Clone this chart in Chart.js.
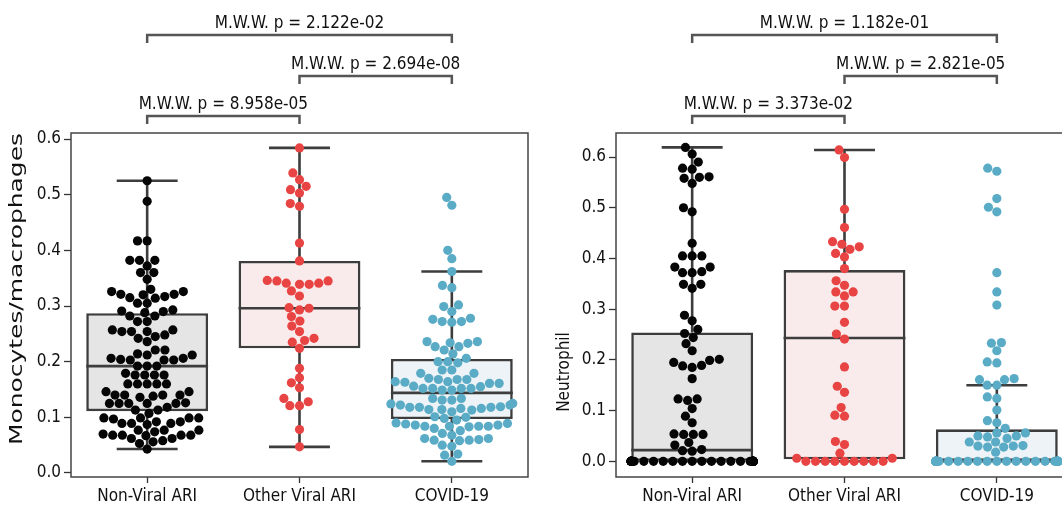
<!DOCTYPE html>
<html>
<head>
<meta charset="utf-8">
<script src="https://cdn.jsdelivr.net/npm/chart.js@4.4.0/dist/chart.umd.min.js"></script>
<style>
  html, body { margin: 0; padding: 0; background: #fff; overflow: hidden; }
  #page { position: relative; width: 1062px; height: 512px; overflow: hidden; }
  .panel { position: absolute; top: 0; width: 545px; height: 512px; }
</style>
</head>
<body>
<div id="page">
  <div class="panel" style="left:0"><canvas id="mono"></canvas></div>
  <div class="panel" style="left:545px"><canvas id="neut"></canvas></div>
</div>
<script>
// categories and axis ticks
const categories = ['Non-Viral ARI', 'Other Viral ARI', 'COVID-19'];
const yTicks = [0, 0.1, 0.2, 0.3, 0.4, 0.5, 0.6];

const monoNonViral = [
  0.525, 0.488, 0.417, 0.417, 0.382, 0.382, 0.382, 0.372, 0.360, 0.360, 0.348, 0.330,
  0.326, 0.321, 0.317, 0.314, 0.320, 0.315, 0.321, 0.326, 0.305, 0.305,
  0.293, 0.282, 0.282, 0.290, 0.288, 0.291, 0.272, 0.272,
  0.254, 0.254, 0.254, 0.257, 0.242, 0.245, 0.248, 0.257, 0.236, 0.221, 0.221,
  0.212, 0.204, 0.214, 0.212, 0.206, 0.203, 0.203, 0.203, 0.206, 0.192, 0.192, 0.192,
  0.176, 0.176, 0.176, 0.176, 0.179, 0.160, 0.160, 0.160, 0.160, 0.160, 0.146, 0.146,
  0.140, 0.136, 0.140, 0.138, 0.140, 0.140, 0.125, 0.125, 0.125, 0.125, 0.125, 0.126,
  0.113, 0.113, 0.118, 0.107, 0.099, 0.099, 0.099, 0.099, 0.097,
  0.089, 0.089, 0.092, 0.089, 0.087, 0.092, 0.077, 0.077, 0.074, 0.077,
  0.068, 0.068, 0.068, 0.058, 0.056, 0.070, 0.062, 0.062, 0.067, 0.068, 0.053, 0.043
];
const monoOtherViral = [
  0.584, 0.539, 0.527, 0.515, 0.509, 0.503, 0.484, 0.479, 0.413, 0.381,
  0.345, 0.341, 0.346, 0.339, 0.339, 0.341, 0.345, 0.327, 0.318,
  0.297, 0.293, 0.296, 0.281, 0.273, 0.264, 0.254, 0.242, 0.238, 0.235, 0.224,
  0.188, 0.171, 0.162, 0.153, 0.134, 0.128, 0.121, 0.121, 0.078, 0.047
];
const monoCovid = [
  0.495, 0.481, 0.400, 0.385, 0.362, 0.337, 0.333, 0.299, 0.302, 0.290,
  0.276, 0.278, 0.272, 0.271, 0.272, 0.236, 0.227, 0.221, 0.227, 0.233, 0.234, 0.236,
  0.214, 0.206, 0.198, 0.200, 0.200, 0.185, 0.185, 0.179, 0.179,
  0.170, 0.168, 0.163, 0.164, 0.168, 0.168, 0.161, 0.155, 0.161, 0.164,
  0.149, 0.152, 0.152, 0.152, 0.152, 0.149, 0.156, 0.134, 0.134, 0.131, 0.131,
  0.125, 0.122, 0.118, 0.118, 0.114, 0.122, 0.114, 0.113, 0.116, 0.110, 0.116, 0.118, 0.119, 0.124,
  0.101, 0.100, 0.098, 0.095, 0.088, 0.086, 0.084, 0.089, 0.084, 0.083, 0.084, 0.084, 0.086, 0.090,
  0.080, 0.071, 0.068, 0.076, 0.062, 0.059, 0.050, 0.048, 0.058, 0.059, 0.060, 0.062,
  0.032, 0.034, 0.021
];
// box stats: [whisker low, q1, median, q3, whisker high]
const monoStats = [
  [0.043, 0.111, 0.192, 0.287, 0.525],
  [0.047, 0.224, 0.296, 0.381, 0.584],
  [0.021, 0.097, 0.144, 0.205, 0.362]
];
const monoPvals = ['M.W.W. p = 2.122e-02', 'M.W.W. p = 2.694e-08', 'M.W.W. p = 8.958e-05'];

// --- right panel: Neutrophil ---
const neutNonViral = [
  0.619, 0.606, 0.590, 0.578, 0.576, 0.558, 0.560, 0.561, 0.548, 0.500, 0.492,
  0.430, 0.405, 0.405, 0.405, 0.383, 0.383, 0.372, 0.372, 0.374, 0.349, 0.349, 0.341,
  0.288, 0.277, 0.260, 0.252, 0.244, 0.232, 0.218, 0.199, 0.195, 0.185, 0.188, 0.189, 0.201,
  0.163, 0.120, 0.123, 0.123, 0.104, 0.089, 0.076, 0.053, 0.053, 0.053, 0.054,
  0.037, 0.023, 0.020, 0.021, 0.032,
  0, 0, 0, 0, 0, 0, 0, 0, 0, 0,
  0, 0, 0, 0, 0, 0, 0, 0, 0, 0,
  0, 0, 0, 0, 0, 0, 0, 0, 0, 0,
  0, 0, 0, 0, 0, 0, 0, 0, 0, 0,
  0, 0, 0, 0, 0, 0, 0, 0, 0, 0
];
const neutOtherViral = [
  0.614, 0.599, 0.497, 0.461, 0.433, 0.428, 0.418, 0.423, 0.410, 0.403, 0.380,
  0.356, 0.347, 0.334, 0.334, 0.326, 0.306, 0.306, 0.274, 0.251, 0.241,
  0.186, 0.148, 0.136, 0.106, 0.091, 0.089, 0.039, 0.033, 0.016, 0.006, 0.006,
  0, 0, 0, 0, 0, 0, 0, 0, 0
];
const neutCovid = [
  0.578, 0.572, 0.518, 0.501, 0.492, 0.372, 0.334, 0.308, 0.233, 0.234, 0.218,
  0.196, 0.194, 0.163, 0.161, 0.161, 0.150, 0.150, 0.127, 0.124, 0.101,
  0.076, 0.080, 0.065, 0.056, 0.056, 0.050, 0.050, 0.045, 0.038, 0.048, 0.038,
  0.030, 0.031, 0.028, 0.028, 0.030, 0.018,
  0, 0, 0, 0, 0, 0, 0, 0, 0, 0,
  0, 0, 0, 0, 0, 0, 0, 0, 0, 0,
  0, 0, 0, 0, 0, 0, 0, 0, 0, 0,
  0, 0, 0, 0, 0, 0, 0, 0, 0, 0,
  0, 0, 0, 0, 0, 0, 0, 0, 0, 0,
  0, 0, 0, 0, 0, 0, 0
];
const neutStats = [
  [0, 0, 0.022, 0.254, 0.619],
  [0, 0.004, 0.243, 0.377, 0.614],
  [0, 0, 0, 0.063, 0.150]
];
const neutPvals = ['M.W.W. p = 1.182e-01', 'M.W.W. p = 2.821e-05', 'M.W.W. p = 3.373e-02'];

// bracket pairs (category indices), top to bottom
const bracketPairs = [[0, 2], [1, 2], [0, 1]];

// styling
const FONT = "'DejaVu Sans Condensed', 'DejaVu Sans', sans-serif";
const pointColors = ['#050505', '#e84443', '#5aabc6'];
const boxFills = ['#e5e5e5', '#f9ebeb', '#edf3f6'];
const LINE = '#3d3d3d';
const POINT_R = 4.6;
const BRACKET_Y = [35, 76, 116];

// seaborn-like beeswarm: returns pixel offsets from the category center
function beeswarm(py, r) {
  const d = 2 * r;
  const order = py.map((_, i) => i).sort((a, b) => py[b] - py[a]);
  const placed = [];
  const out = new Array(py.length).fill(0);
  for (const i of order) {
    const y = py[i];
    const near = placed.filter(p => Math.abs(p.y - y) < d);
    const cands = [0];
    near.forEach(p => {
      const dx = Math.sqrt(Math.max(d * d - (p.y - y) ** 2, 0)) * 1.05;
      cands.push(p.x - dx, p.x + dx);
    });
    cands.sort((a, b) => Math.abs(a) - Math.abs(b));
    const x = cands.find(c => near.every(p => (p.x - c) ** 2 + (p.y - y) ** 2 >= d * d * 0.999));
    placed.push({ x: x ?? 0, y });
    out[i] = x ?? 0;
  }
  return out;
}

const boxExtras = {
  id: 'boxExtras',
  beforeDatasetsDraw(chart) {
    const { ctx, chartArea: a } = chart;
    ctx.save();
    ctx.strokeStyle = '#444';
    ctx.lineWidth = 1.5;
    ctx.strokeRect(a.left, a.top, a.right - a.left, a.bottom - a.top);
    ctx.restore();
  },
  afterDatasetDraw(chart, args, opts) {
    if (args.index !== 0) return;
    const { ctx } = chart;
    const xs = chart.scales.x, ys = chart.scales.y;
    ctx.save();
    ctx.strokeStyle = LINE;
    ctx.lineWidth = 2.6;
    ctx.lineCap = 'butt';
    opts.stats.forEach((s, i) => {
      const [lo, q1, med, q3, hi] = s;
      const cx = xs.getPixelForValue(i);
      const capL = xs.getPixelForValue(i - 0.2), capR = xs.getPixelForValue(i + 0.2);
      const boxL = xs.getPixelForValue(i - 0.4), boxR = xs.getPixelForValue(i + 0.4);
      ctx.beginPath();
      ctx.moveTo(cx, ys.getPixelForValue(q3)); ctx.lineTo(cx, ys.getPixelForValue(hi));
      ctx.moveTo(cx, ys.getPixelForValue(q1)); ctx.lineTo(cx, ys.getPixelForValue(lo));
      ctx.moveTo(capL, ys.getPixelForValue(hi)); ctx.lineTo(capR, ys.getPixelForValue(hi));
      ctx.moveTo(capL, ys.getPixelForValue(lo)); ctx.lineTo(capR, ys.getPixelForValue(lo));
      ctx.moveTo(boxL, ys.getPixelForValue(med)); ctx.lineTo(boxR, ys.getPixelForValue(med));
      ctx.stroke();
    });
    ctx.restore();
  },
  afterDraw(chart, args, opts) {
    const { ctx } = chart;
    const xs = chart.scales.x;
    ctx.save();
    ctx.strokeStyle = '#555';
    ctx.lineWidth = 2.5;
    ctx.fillStyle = '#111';
    ctx.font = '17px ' + FONT;
    ctx.textAlign = 'center';
    ctx.textBaseline = 'alphabetic';
    bracketPairs.forEach(([a, b], k) => {
      const x1 = xs.getPixelForValue(a), x2 = xs.getPixelForValue(b);
      const y = BRACKET_Y[k];
      ctx.beginPath();
      ctx.moveTo(x1, y + 8); ctx.lineTo(x1, y); ctx.lineTo(x2, y); ctx.lineTo(x2, y + 8);
      ctx.stroke();
      ctx.fillText(opts.pvals[k], (x1 + x2) / 2, y - 7);
    });

    // y-axis label, drawn rotated beside the axis
    const t = opts.yTitle;
    ctx.textBaseline = 'middle';
    const w = ctx.measureText(t.text).width;
    ctx.translate(t.x, t.y);
    ctx.rotate(-Math.PI / 2);
    ctx.scale(t.length ? t.length / w : 1, 1);
    ctx.fillText(t.text, 0, 0);
    ctx.restore();
  }
};

function makeChart(id, groups, stats, pvals, yTitle, yMin, yMax) {
  const datasets = [{
    type: 'bar',
    order: 2,
    data: stats.map((s, i) => ({ x: i, y: [s[1], s[3]] })),
    backgroundColor: boxFills,
    borderColor: LINE,
    borderWidth: 2.6,
    borderSkipped: false,
    barPercentage: 1,
    categoryPercentage: 0.8
  }];
  groups.forEach((vals, g) => {
    datasets.push({
      type: 'scatter',
      order: 1,
      data: vals.map(v => ({ x: g, y: v })),
      backgroundColor: pointColors[g],
      borderWidth: 0,
      pointRadius: POINT_R,
      pointHoverRadius: POINT_R
    });
  });
  const chart = new Chart(document.getElementById(id), {
    type: 'bar',
    data: { datasets },
    options: {
      responsive: true,
      maintainAspectRatio: false,
      animation: false,
      layout: { padding: { top: 133, right: 17, left: 0, bottom: 0 } },
      plugins: {
        legend: { display: false },
        tooltip: { enabled: false },
        boxExtras: { stats, pvals, yTitle }
      },
      scales: {
        x: {
          type: 'linear',
          offset: false,
          min: -0.5, max: 2.5,
          afterBuildTicks: ax => { ax.ticks = categories.map((_, i) => ({ value: i })); },
          afterFit: ax => { ax.height = 35; },
          grid: { offset: false, drawOnChartArea: false, drawTicks: true, tickLength: 6, tickColor: '#333', tickWidth: 1.3 },
          border: { display: false },
          ticks: {
            callback: v => categories[v],
            color: '#111',
            padding: 3,
            maxRotation: 0,
            autoSkip: false,
            font: { family: FONT, size: 17 }
          }
        },
        y: {
          min: yMin, max: yMax,
          afterBuildTicks: ax => { ax.ticks = yTicks.map(v => ({ value: v })); },
          afterFit: ax => { ax.width = 71; },
          grid: { drawOnChartArea: false, drawTicks: true, tickLength: 7, tickColor: '#333', tickWidth: 1.3 },
          border: { display: false },
          ticks: {
            callback: v => v.toFixed(1),
            color: '#111',
            padding: 3,
            font: { family: FONT, size: 17 }
          }
        }
      }
    },
    plugins: [boxExtras]
  });

  // spread the points into a swarm using the chart's own pixel scale
  const xs = chart.scales.x, ys = chart.scales.y;
  const unit = xs.getPixelForValue(1) - xs.getPixelForValue(0);
  const half = unit * 0.4;
  groups.forEach((vals, g) => {
    const off = beeswarm(vals.map(v => ys.getPixelForValue(v)), POINT_R);
    chart.data.datasets[g + 1].data = vals.map((v, i) => ({
      x: g + Math.max(-half, Math.min(half, off[i])) / unit,
      y: v
    }));
  });
  chart.update('none');
  return chart;
}

makeChart('mono', [monoNonViral, monoOtherViral, monoCovid], monoStats, monoPvals,
  { text: 'Monocytes/macrophages', x: 18, y: 289, length: 312 }, -0.0072, 0.6108);
makeChart('neut', [neutNonViral, neutOtherViral, neutCovid], neutStats, neutPvals,
  { text: 'Neutrophil', x: 20, y: 372, length: 0 }, -0.031, 0.6474);
</script>
</body>
</html>
